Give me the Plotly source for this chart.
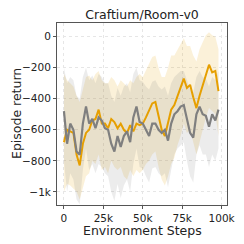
import plotly.graph_objects as go

steps = [i * 2000 for i in range(50)]

orange_mean = [-680, -600, -610, -620, -760, -830, -690, -620, -600, -540,
               -530, -470, -560, -560, -590, -530, -550, -590, -560, -600,
               -620, -570, -610, -560, -570, -560, -520, -480, -430, -420,
               -520, -600, -640, -560, -470, -440, -380, -330, -270, -330,
               -310, -390, -460, -380, -310, -240, -180, -230, -220, -350]
orange_upper = [-240, -280, -300, -320, -380, -420, -340, -260, -250, -280,
                -240, -220, -280, -300, -300, -260, -280, -320, -280, -300,
                -320, -280, -300, -260, -240, -260, -220, -180, -130, -120,
                -200, -260, -260, -200, -120, -120, -80, -40, -10, -60,
                -60, -120, -160, -80, -40, 10, 30, 10, 0, -80]
orange_lower = [-1000, -950, -960, -980, -1000, -1050, -980, -900, -880, -800,
                -820, -760, -860, -840, -880, -800, -840, -860, -840, -900,
                -920, -860, -900, -860, -880, -860, -820, -800, -760, -740,
                -840, -920, -960, -900, -820, -780, -700, -640, -560, -620,
                -600, -680, -760, -680, -600, -520, -460, -480, -500, -640]

gray_mean = [-480, -690, -560, -600, -740, -760, -560, -450, -560, -530,
             -590, -520, -540, -590, -600, -690, -740, -640, -710, -640,
             -610, -680, -520, -450, -550, -560, -600, -640, -560, -560,
             -600, -620, -600, -670, -560, -500, -480, -450, -440, -540,
             -620, -650, -500, -450, -500, -510, -580, -500, -540, -470]
gray_upper = [-200, -300, -260, -280, -380, -400, -260, -200, -280, -250,
              -300, -240, -260, -300, -300, -380, -420, -330, -380, -320,
              -300, -360, -240, -200, -280, -290, -320, -340, -290, -280,
              -320, -340, -320, -380, -300, -260, -240, -220, -220, -280,
              -340, -360, -260, -220, -260, -270, -320, -260, -280, -220]
gray_lower = [-800, -1000, -880, -920, -1050, -1080, -860, -720, -860, -820,
              -880, -820, -840, -880, -900, -1000, -1060, -950, -1040, -960,
              -920, -1000, -820, -720, -840, -850, -900, -940, -850, -840,
              -880, -900, -880, -970, -860, -760, -720, -700, -680, -800,
              -900, -940, -760, -700, -760, -760, -840, -760, -800, -720]

x_ticks = [0, 25000, 50000, 75000, 100000]
x_tick_labels = ["0", "25k", "50k", "75k", "100k"]
y_ticks = [0, -200, -400, -600, -800, -1000]
y_tick_labels = ["0", "−200", "−400", "−600", "−800", "−1k"]

ORANGE = "#E69F00"
GRAY = "#7f7f7f"

fig = go.Figure()

def band(upper, lower, fill):
    fig.add_trace(go.Scatter(x=steps, y=upper, mode="lines", line=dict(width=0),
                             showlegend=False, hoverinfo="skip"))
    fig.add_trace(go.Scatter(x=steps, y=lower, mode="lines", line=dict(width=0),
                             fill="tonexty", fillcolor=fill, showlegend=False,
                             hoverinfo="skip"))

band(orange_upper, orange_lower, "rgba(230,159,0,0.15)")
band(gray_upper, gray_lower, "rgba(127,127,127,0.15)")

fig.add_trace(go.Scatter(x=steps, y=orange_mean, mode="lines",
                         line=dict(color=ORANGE, width=2), showlegend=False))
fig.add_trace(go.Scatter(x=steps, y=gray_mean, mode="lines",
                         line=dict(color=GRAY, width=2.2), showlegend=False))

axis_common = dict(showline=True, linecolor="#555555", linewidth=1, mirror=True,
                   ticks="outside", ticklen=3, tickcolor="#555555",
                   showgrid=True, gridcolor="#e6e6e6", griddash="dot", gridwidth=1,
                   zeroline=False, automargin=False,
                   tickfont=dict(size=10.5, color="#222222"))

# The page adds an 8px body margin, so the figure is 236px and offset by 8px.
fig.update_layout(
    width=236, height=236,
    margin=dict(l=49, r=17, t=15, b=39),
    paper_bgcolor="white", plot_bgcolor="white",
    font=dict(family="DejaVu Sans", color="#222222"),
    title=dict(text="Craftium/Room-v0", xref="paper", x=0.5, xanchor="center",
               yref="container", y=0.97, yanchor="middle", font=dict(size=12.5)),
    xaxis=dict(range=[-4400, 103400], tickvals=x_ticks, ticktext=x_tick_labels,
               **axis_common),
    yaxis=dict(range=[-1085, 89], tickvals=y_ticks, ticktext=y_tick_labels,
               **axis_common),
    annotations=[
        dict(text="Environment Steps", xref="paper", yref="paper", x=0.5, y=0,
             xanchor="center", yanchor="middle", yshift=-25, showarrow=False,
             font=dict(size=12.5, color="#222222")),
        dict(text="Episode return", xref="paper", yref="paper", x=0, y=0.5,
             xanchor="center", yanchor="middle", xshift=-41, textangle=-90,
             showarrow=False, font=dict(size=12.5, color="#222222")),
    ],
)

fig.write_html("out.html")
